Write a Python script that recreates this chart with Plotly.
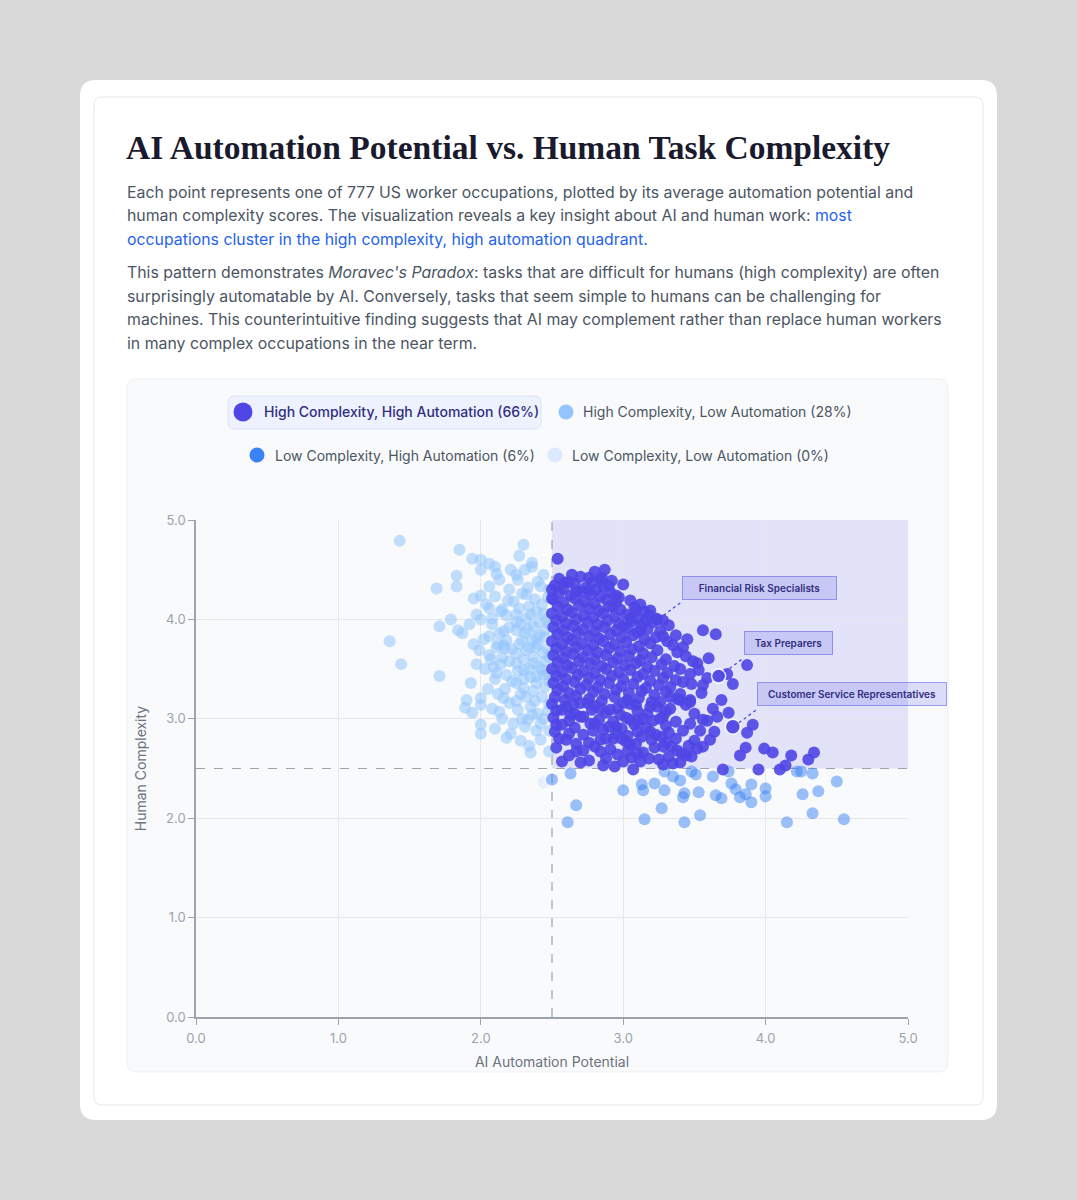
import plotly.graph_objects as go

W, H = 1077, 1200

title_text = "AI Automation Potential vs. Human Task Complexity"
para1_lines = [
    "Each point represents one of 777 US worker occupations, plotted by its average automation potential and",
    "human complexity scores. The visualization reveals a key insight about AI and human work: "
    "<span style='color:#2563eb'>most</span>",
    "<span style='color:#2563eb'>occupations cluster in the high complexity, high automation quadrant.</span>",
]
para2_lines = [
    "This pattern demonstrates <i>Moravec's Paradox</i>: tasks that are difficult for humans (high complexity) are often",
    "surprisingly automatable by AI. Conversely, tasks that seem simple to humans can be challenging for",
    "machines. This counterintuitive finding suggests that AI may complement rather than replace human workers",
    "in many complex occupations in the near term.",
]

threshold = 2.5
tick_vals = [0, 1, 2, 3, 4, 5]
tick_text = ["0.0", "1.0", "2.0", "3.0", "4.0", "5.0"]

legend_labels = [
    "High Complexity, High Automation (66%)",
    "High Complexity, Low Automation (28%)",
    "Low Complexity, High Automation (6%)",
    "Low Complexity, Low Automation (0%)",
]

# high complexity, high automation
hh_points = [
    (2.54, 4.61), (2.64, 4.45), (2.59, 4.37), (2.80, 4.48), (2.87, 4.50), (2.84, 4.40), (3.00, 4.35),
    (2.76, 4.42), (2.50, 4.30), (2.50, 4.21), (2.67, 4.28), (2.76, 4.29), (2.86, 4.33), (2.95, 4.24),
    (2.93, 4.13), (3.09, 4.09), (3.19, 4.09), (3.16, 3.99), (3.23, 4.01), (3.28, 3.99), (3.32, 3.94),
    (3.56, 3.89), (3.65, 3.85), (3.37, 3.84), (3.05, 4.01), (3.00, 3.93), (3.12, 3.89), (3.23, 3.82),
    (3.42, 3.72), (3.31, 3.78), (3.60, 3.61), (3.49, 3.58), (3.87, 3.54), (3.73, 3.45), (3.77, 3.35),
    (3.59, 3.41), (3.56, 3.34), (3.55, 3.26), (3.42, 3.37), (3.47, 3.45), (3.53, 3.49), (3.69, 3.19),
    (3.63, 3.10), (3.74, 3.06), (3.91, 2.94), (3.87, 2.86), (3.66, 3.02), (3.64, 2.87), (3.56, 2.99),
    (3.50, 3.05), (3.47, 3.19), (3.61, 2.79), (3.56, 2.72), (3.86, 2.71), (3.82, 2.63), (3.99, 2.70),
    (4.05, 2.66), (4.18, 2.63), (4.34, 2.66), (4.30, 2.59), (4.14, 2.53), (4.10, 2.49), (3.95, 2.49),
    (3.70, 2.49), (3.48, 2.62), (3.46, 2.73), (3.41, 2.65), (3.35, 2.55), (3.32, 2.62), (3.28, 2.72),
    (3.18, 2.60), (3.14, 2.66), (3.10, 2.65), (3.07, 2.49), (3.00, 2.57), (2.94, 2.52), (3.05, 2.74),
    (2.99, 2.80), (2.93, 2.80), (2.84, 2.67), (2.84, 2.79), (2.76, 2.58), (2.67, 2.75), (2.67, 2.67),
    (2.57, 2.57), (2.55, 2.80), (2.62, 2.85), (2.53, 2.94), (3.13, 2.82), (3.19, 2.87), (3.27, 2.82),
    (3.34, 2.72), (3.37, 2.80), (3.42, 2.88), (3.47, 2.95), (3.54, 2.88), (3.59, 2.98), (3.21, 2.98),
    (3.28, 3.02), (3.14, 3.00), (3.05, 2.99), (2.95, 2.92), (2.86, 2.89), (2.77, 2.95), (2.72, 3.02),
    (2.63, 3.04), (2.57, 3.09), (2.65, 3.15), (2.75, 3.16), (2.84, 3.10), (2.91, 3.09), (3.00, 3.16),
    (3.09, 3.14), (3.19, 3.12), (3.26, 3.17), (3.33, 3.22), (3.40, 3.19), (3.47, 3.17),
    (2.55, 4.41), (2.62, 4.38), (2.70, 4.43), (2.78, 4.37), (2.85, 4.42), (2.92, 4.39),
    (2.52, 4.34), (2.58, 4.31), (2.66, 4.35), (2.74, 4.32), (2.81, 4.30), (2.90, 4.34),
    (2.55, 4.27), (2.63, 4.24), (2.70, 4.28), (2.77, 4.25), (2.84, 4.23), (2.91, 4.27), (2.97, 4.22),
    (2.51, 4.20), (2.58, 4.17), (2.66, 4.21), (2.73, 4.18), (2.80, 4.16), (2.88, 4.20), (2.95, 4.17),
    (3.05, 4.19), (3.12, 4.15),
    (2.54, 4.13), (2.61, 4.10), (2.69, 4.14), (2.76, 4.11), (2.83, 4.09), (2.90, 4.13), (2.98, 4.10),
    (3.08, 4.12), (3.15, 4.08),
    (2.50, 4.06), (2.57, 4.03), (2.64, 4.07), (2.72, 4.04), (2.79, 4.02), (2.86, 4.06), (2.94, 4.03),
    (3.02, 4.05), (3.10, 4.01), (3.18, 4.04),
    (2.53, 3.99), (2.60, 3.96), (2.67, 4.00), (2.75, 3.97), (2.82, 3.95), (2.89, 3.99), (2.97, 3.96),
    (3.06, 3.98), (3.13, 3.94), (3.21, 3.97),
    (2.51, 3.92), (2.58, 3.89), (2.65, 3.93), (2.72, 3.90), (2.80, 3.88), (2.87, 3.92), (2.95, 3.89),
    (3.03, 3.91), (3.10, 3.87), (3.17, 3.90), (3.26, 3.88),
    (2.54, 3.85), (2.61, 3.82), (2.68, 3.86), (2.76, 3.83), (2.83, 3.81), (2.91, 3.85), (2.99, 3.82),
    (3.07, 3.84), (3.15, 3.80), (3.28, 3.83), (3.45, 3.80),
    (2.50, 3.78), (2.57, 3.75), (2.64, 3.79), (2.71, 3.76), (2.79, 3.74), (2.86, 3.78), (2.94, 3.75),
    (3.02, 3.77), (3.11, 3.73), (3.19, 3.76), (3.35, 3.74),
    (2.53, 3.71), (2.60, 3.68), (2.67, 3.72), (2.75, 3.69), (2.82, 3.67), (2.90, 3.71), (2.98, 3.68),
    (3.06, 3.70), (3.14, 3.66), (3.24, 3.69), (3.38, 3.67),
    (2.51, 3.64), (2.58, 3.61), (2.65, 3.65), (2.72, 3.62), (2.80, 3.60), (2.88, 3.64), (2.96, 3.61),
    (3.04, 3.63), (3.12, 3.59), (3.20, 3.62), (3.30, 3.60), (3.44, 3.63),
    (2.54, 3.57), (2.61, 3.54), (2.69, 3.58), (2.77, 3.55), (2.85, 3.53), (2.93, 3.57), (3.01, 3.54),
    (3.09, 3.56), (3.17, 3.52), (3.27, 3.55), (3.36, 3.53), (3.52, 3.56),
    (2.50, 3.50), (2.57, 3.47), (2.64, 3.51), (2.72, 3.48), (2.80, 3.46), (2.88, 3.50), (2.97, 3.47),
    (3.05, 3.49), (3.14, 3.45), (3.22, 3.48), (3.31, 3.46), (3.40, 3.50),
    (2.53, 3.43), (2.60, 3.40), (2.68, 3.44), (2.76, 3.41), (2.84, 3.39), (2.92, 3.43), (3.00, 3.40),
    (3.10, 3.42), (3.19, 3.38), (3.28, 3.41), (3.37, 3.39),
    (2.51, 3.36), (2.58, 3.33), (2.66, 3.37), (2.74, 3.34), (2.82, 3.32), (2.90, 3.36), (2.99, 3.33),
    (3.07, 3.35), (3.16, 3.31), (3.25, 3.34), (3.33, 3.32), (3.48, 3.35),
    (2.54, 3.29), (2.62, 3.26), (2.70, 3.30), (2.79, 3.27), (2.87, 3.25), (2.95, 3.29), (3.04, 3.26),
    (3.13, 3.28), (3.22, 3.24), (3.30, 3.27), (3.40, 3.25),
    (2.52, 3.22), (2.59, 3.19), (2.67, 3.23), (2.76, 3.20), (2.85, 3.18), (2.94, 3.22), (3.03, 3.19),
    (3.11, 3.21), (3.20, 3.17), (3.38, 3.20),
    (2.50, 3.15), (2.60, 3.12), (2.70, 3.16), (2.80, 3.13), (2.96, 3.11), (3.05, 3.15), (3.24, 3.12),
    (3.33, 3.10), (3.44, 3.14),
    (2.53, 3.08), (2.66, 3.05), (2.78, 3.09), (2.88, 3.06), (2.98, 3.04), (3.10, 3.08), (3.17, 3.05),
    (3.30, 3.07),
    (2.51, 3.01), (2.62, 2.98), (2.70, 3.02), (2.83, 2.99), (2.93, 2.97), (3.02, 3.01), (3.10, 2.98),
    (3.26, 3.00), (3.37, 2.97),
    (2.57, 2.94), (2.66, 2.91), (2.80, 2.95), (2.90, 2.92), (2.99, 2.90), (3.08, 2.94), (3.16, 2.91),
    (3.30, 2.93),
    (2.52, 2.87), (2.72, 2.84), (2.79, 2.88), (2.95, 2.85), (3.03, 2.83), (3.10, 2.87), (3.23, 2.84),
    (3.32, 2.86),
    (2.60, 2.79), (2.76, 2.76), (2.88, 2.80), (3.02, 2.77), (3.09, 2.75), (3.20, 2.79), (3.30, 2.76),
    (3.50, 2.78),
    (2.53, 2.71), (2.72, 2.68), (2.80, 2.72), (2.91, 2.69), (3.03, 2.67), (3.22, 2.71), (3.38, 2.68),
    (3.52, 2.70),
    (2.62, 2.63), (2.88, 2.60), (2.96, 2.64), (3.06, 2.61), (3.25, 2.59), (3.44, 2.63),
    (2.70, 2.56), (2.86, 2.53), (3.12, 2.57), (3.28, 2.54), (3.40, 2.56),
]

# high complexity, low automation
hl_points = [
    (1.43, 4.79), (1.85, 4.70), (2.30, 4.75), (2.27, 4.64), (1.94, 4.61), (2.00, 4.60), (2.06, 4.56),
    (2.10, 4.53), (2.00, 4.50), (2.11, 4.46), (2.21, 4.50), (2.31, 4.50), (2.36, 4.57), (2.36, 4.53),
    (2.13, 4.40), (2.25, 4.45), (2.26, 4.40), (1.83, 4.44), (1.69, 4.31), (1.83, 4.33), (1.95, 4.21),
    (2.00, 4.24), (2.06, 4.33), (2.10, 4.23), (2.19, 4.19), (2.29, 4.26), (2.33, 4.32), (2.42, 4.33),
    (2.06, 4.11), (2.14, 4.08), (2.23, 4.18), (2.27, 4.11), (2.34, 4.13), (2.39, 4.08), (2.44, 4.06),
    (1.79, 4.00), (2.00, 4.00), (2.08, 4.01), (2.18, 4.04), (2.25, 3.98), (2.32, 4.01), (1.71, 3.93),
    (1.84, 3.89), (1.87, 3.86), (2.06, 3.83), (2.13, 3.86), (2.18, 3.79), (2.25, 3.89), (2.31, 3.86),
    (2.37, 3.93), (2.41, 3.84), (2.45, 3.89), (1.36, 3.78), (1.44, 3.55), (1.99, 3.69), (2.06, 3.64),
    (2.11, 3.72), (2.16, 3.74), (2.17, 3.71), (2.25, 3.66), (2.32, 3.69), (2.39, 3.72), (2.44, 3.66),
    (2.29, 3.79), (2.36, 3.79), (2.39, 3.82), (1.71, 3.43), (1.93, 3.36), (2.09, 3.52), (2.11, 3.46),
    (2.18, 3.44), (2.25, 3.56), (2.30, 3.49), (2.37, 3.56), (2.43, 3.49), (2.35, 3.42), (2.25, 3.36),
    (2.30, 3.31), (2.39, 3.36), (2.44, 3.44), (1.90, 3.19), (2.00, 3.21), (1.89, 3.11), (1.94, 3.06),
    (2.00, 3.14), (2.13, 3.07), (2.16, 3.21), (2.20, 3.16), (2.26, 3.09), (2.35, 3.12), (2.32, 3.22),
    (2.40, 3.05), (2.44, 3.00), (2.33, 2.99), (2.00, 2.94), (2.00, 2.85), (2.10, 2.90), (2.18, 2.81),
    (2.21, 2.85), (2.28, 2.78), (2.35, 2.66), (2.34, 2.73), (2.42, 2.79), (2.48, 2.67),
    (2.38, 4.20), (2.43, 4.15), (2.47, 4.22), (2.35, 4.05), (2.46, 4.00), (2.41, 3.97), (2.28, 3.95),
    (2.20, 3.92), (2.33, 3.90), (2.45, 3.82), (2.40, 3.75), (2.34, 3.72), (2.27, 3.75), (2.22, 3.70),
    (2.47, 3.70), (2.37, 3.62), (2.30, 3.60), (2.45, 3.58), (2.20, 3.58), (2.15, 3.62), (2.41, 3.52),
    (2.34, 3.50), (2.26, 3.48), (2.47, 3.45), (2.39, 3.42), (2.30, 3.40), (2.22, 3.38), (2.45, 3.32),
    (2.37, 3.28), (2.28, 3.25), (2.43, 3.22), (2.48, 3.15), (2.38, 3.18), (2.25, 3.18), (2.47, 3.08),
    (2.36, 3.04), (2.29, 3.00), (2.42, 2.95), (2.48, 2.88), (2.39, 2.88), (2.31, 2.92), (2.23, 2.95),
    (2.15, 3.00), (2.08, 3.10), (2.12, 3.25), (2.05, 3.30), (2.17, 3.30), (2.10, 3.40), (2.03, 3.50),
    (2.14, 3.55), (2.07, 3.60), (2.12, 3.75), (2.02, 3.80), (2.16, 3.88), (2.08, 3.95), (2.25, 4.05),
    (2.15, 4.10), (2.04, 4.15), (2.32, 4.25), (2.40, 4.38), (2.44, 4.45), (2.20, 4.30), (1.97, 4.05),
    (1.92, 3.95), (1.97, 3.55), (1.95, 3.75), (2.48, 4.30), (2.48, 3.95), (2.48, 3.62), (2.48, 3.38),
]

# low complexity, high automation
lh_points = [
    (2.63, 2.45), (2.50, 2.39), (2.67, 2.13), (2.61, 1.96), (3.00, 2.28), (3.13, 2.34), (3.14, 2.28),
    (3.22, 2.35), (3.29, 2.47), (3.29, 2.28), (3.35, 2.42), (3.40, 2.38), (3.42, 2.21), (3.43, 2.25),
    (3.48, 2.47), (3.53, 2.26), (3.27, 2.10), (3.15, 1.99), (3.43, 1.96), (3.54, 2.03), (3.63, 2.42),
    (3.65, 2.23), (3.69, 2.20), (3.76, 2.35), (3.79, 2.29), (3.82, 2.21), (3.86, 2.24), (3.90, 2.34),
    (3.90, 2.16), (4.00, 2.30), (4.00, 2.22), (4.22, 2.47), (4.25, 2.47), (4.33, 2.45), (4.26, 2.24),
    (4.37, 2.27), (4.33, 2.05), (4.15, 1.96), (4.50, 2.37), (4.55, 1.99), (3.74, 2.47), (3.51, 2.44),
]

# low complexity, low automation
ll_points = [(2.44, 2.36)]

highlight_names = ["Financial Risk Specialists", "Tax Preparers", "Customer Service Representatives"]
highlight_x = [3.24, 3.67, 3.77]
highlight_y = [4.00, 3.43, 2.92]


def fx(p):
    return p / W


def fy(p):
    return 1 - p / H


def rrect(x0, y0, x1, y1, r):
    # rounded rectangle path in paper coords from pixel box
    pts = [
        ("M", x0 + r, y0), ("L", x1 - r, y0), ("Q", x1, y0, x1, y0 + r),
        ("L", x1, y1 - r), ("Q", x1, y1, x1 - r, y1), ("L", x0 + r, y1),
        ("Q", x0, y1, x0, y1 - r), ("L", x0, y0 + r), ("Q", x0, y0, x0 + r, y0),
    ]
    out = []
    for p in pts:
        cmd, vals = p[0], p[1:]
        coords = []
        for i in range(0, len(vals), 2):
            coords.append(f"{fx(vals[i]):.5f},{fy(vals[i + 1]):.5f}")
        out.append(cmd + " " + " ".join(coords))
    return " ".join(out) + " Z"


FONT = "Inter, sans-serif"

fig = go.Figure()

series = [
    (hl_points, "#93c5fd", 0.55, legend_labels[1]),
    (ll_points, "#dbeafe", 0.6, legend_labels[3]),
    (lh_points, "#3b82f6", 0.5, legend_labels[2]),
    (hh_points, "#4f46e5", 0.9, legend_labels[0]),
]
for pts, color, op, name in series:
    fig.add_trace(go.Scatter(
        x=[p[0] for p in pts], y=[p[1] for p in pts], mode="markers", name=name,
        marker=dict(size=12, color=color, opacity=op, line=dict(width=0)),
        showlegend=False, hovertemplate="(%{x:.2f}, %{y:.2f})<extra></extra>",
    ))

fig.add_trace(go.Scatter(
    x=highlight_x, y=highlight_y, mode="markers", text=highlight_names,
    marker=dict(size=[12, 14, 15], color="#4f46e5", opacity=0.95,
                line=dict(width=[0, 1.5, 1.5], color="rgba(255,255,255,0.9)")),
    showlegend=False, hovertemplate="%{text}<extra></extra>",
))

shapes = [
    dict(type="path", path=rrect(80, 80, 997, 1120, 16), xref="paper", yref="paper",
         fillcolor="white", line=dict(width=0), layer="below"),
    dict(type="path", path=rrect(94, 97, 983, 1105, 8), xref="paper", yref="paper",
         fillcolor="white", line=dict(width=1, color="#e5e7eb"), layer="below"),
    dict(type="path", path=rrect(127, 379, 948, 1072, 10), xref="paper", yref="paper",
         fillcolor="#f9fafb", line=dict(width=1, color="#eef0f3"), layer="below"),
    dict(type="path", path=rrect(228, 396, 541, 429, 7), xref="paper", yref="paper",
         fillcolor="#eef2ff", line=dict(width=1, color="#dbe3fb"), layer="below"),
    # quadrant shading + thresholds
    dict(type="rect", xref="x", yref="y", x0=threshold, x1=5, y0=threshold, y1=5,
         fillcolor="rgba(79,70,229,0.13)", line=dict(width=0), layer="below"),
    dict(type="line", xref="x", yref="y", x0=threshold, x1=threshold, y0=0, y1=5,
         line=dict(color="#9ca3af", width=1.2, dash="dash"), layer="below"),
    dict(type="line", xref="x", yref="y", x0=0, x1=5, y0=threshold, y1=threshold,
         line=dict(color="#9ca3af", width=1.2, dash="dash"), layer="below"),
]

# legend glyphs
legend_pos = [(243, 412, 9.5, 262), (566, 412, 7.5, 581), (257, 455, 7.5, 273), (555, 455, 7.5, 570)]
legend_colors = ["#4f46e5", "#93c5fd", "#3b82f6", "#dbeafe"]
annotations = []
for (cx, cy, r, tx), col, lab in zip(legend_pos, legend_colors, legend_labels):
    shapes.append(dict(type="circle", xref="paper", yref="paper",
                       x0=fx(cx - r), x1=fx(cx + r), y0=fy(cy + r), y1=fy(cy - r),
                       fillcolor=col, line=dict(width=0)))
    first = lab == legend_labels[0]
    annotations.append(dict(
        x=fx(tx), y=fy(cy), xref="paper", yref="paper", xanchor="left", yanchor="middle",
        text=lab, showarrow=False,
        font=dict(family=FONT, size=14, color="#312e81" if first else "#4b5563",
                  weight=500 if first else 400),
    ))

# connectors + callout boxes
box_offsets = [(102, -31, 145), (70, -33, 79), (119, -33, 180)]
for name, hx, hy, (ax, ay, bw) in zip(highlight_names, highlight_x, highlight_y, box_offsets):
    shapes.append(dict(type="line", xref="x", yref="y", xsizemode="pixel", ysizemode="pixel",
                       xanchor=hx, yanchor=hy, x0=6, y0=4, x1=25, y1=18,
                       line=dict(color="#4f46e5", width=1.3, dash="dot"), layer="above"))
    annotations.append(dict(
        x=hx, y=hy, xref="x", yref="y", text=name, showarrow=True, arrowcolor="rgba(0,0,0,0)",
        ax=ax, ay=ay, width=bw, height=14, bgcolor="rgba(99,102,241,0.2)",
        bordercolor="rgba(79,70,229,0.5)", borderwidth=1, borderpad=4,
        font=dict(family=FONT, size=10, color="#312e81", weight=600),
    ))

annotations.append(dict(
    x=fx(124), y=fy(148), xref="paper", yref="paper", xanchor="left", yanchor="middle",
    text=title_text, showarrow=False,
    font=dict(family="Liberation Serif, serif", size=33.5, color="#1a1a2e", weight=700),
))
for i, line in enumerate(para1_lines):
    annotations.append(dict(x=fx(125), y=fy(192 + 24 * i), xref="paper", yref="paper",
                            xanchor="left", yanchor="middle", text=line, showarrow=False,
                            font=dict(family=FONT, size=15.85, color="#4b5563")))
for i, line in enumerate(para2_lines):
    annotations.append(dict(x=fx(125), y=fy(272 + 24 * i), xref="paper", yref="paper",
                            xanchor="left", yanchor="middle", text=line, showarrow=False,
                            font=dict(family=FONT, size=15.85, color="#4b5563")))

axis_common = dict(
    range=[0, 5], tickvals=tick_vals, ticktext=tick_text, showgrid=True, gridcolor="#e5e7eb",
    gridwidth=1, zeroline=False, showline=True, linecolor="#9ca3af", linewidth=1.5,
    ticks="outside", ticklen=6, tickcolor="#9ca3af", tickfont=dict(family=FONT, size=13, color="#9ca3af"),
    fixedrange=True, automargin=False,
)
fig.update_layout(
    width=W, height=H, margin=dict(l=0, r=0, t=0, b=0, pad=0, autoexpand=False),
    paper_bgcolor="#d9d9d9", plot_bgcolor="rgba(0,0,0,0)",
    xaxis=dict(axis_common, domain=[fx(196), fx(908)], ticklabelstandoff=3,
               title=dict(text="AI Automation Potential", standoff=12,
                          font=dict(family=FONT, size=14, color="#6b7280"))),
    yaxis=dict(axis_common, domain=[fy(1017), fy(520)],
               title=dict(text="Human Complexity", standoff=16,
                          font=dict(family=FONT, size=14, color="#6b7280"))),
    shapes=shapes, annotations=annotations, showlegend=False,
)

fig.write_html("out.html", config={"responsive": False, "displayModeBar": False},
               post_script="document.body.style.margin='0';")
